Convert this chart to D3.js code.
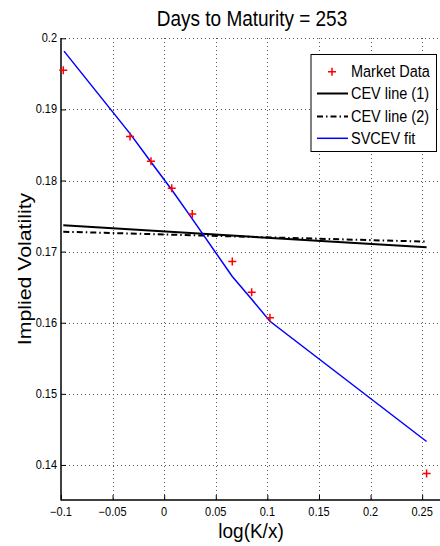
<!DOCTYPE html>
<html><head><meta charset="utf-8">
<script src="https://cdn.jsdelivr.net/npm/d3@7"></script>
<style>body{margin:0;background:#fff}svg{display:block}text{font-family:"Liberation Sans",Arial,Helvetica,sans-serif}</style>
</head><body>
<svg id="c" width="440" height="546"></svg>
<script>
const title = "Days to Maturity = 253";
const xLabel = "log(K/x)";
const yLabel = "Implied Volatility";
const xTicks = [-0.1, -0.05, 0, 0.05, 0.1, 0.15, 0.2, 0.25];
const xTickLabels = ["\u22120.1", "\u22120.05", "0", "0.05", "0.1", "0.15", "0.2", "0.25"];
const yTicks = [0.14, 0.15, 0.16, 0.17, 0.18, 0.19, 0.2];
const yTickLabels = ["0.14", "0.15", "0.16", "0.17", "0.18", "0.19", "0.2"];
const marketX = [-0.0978, -0.0331, -0.0128, 0.0073, 0.0272, 0.066, 0.0848, 0.1025, 0.2543];
const marketVol = [0.1955, 0.1862, 0.1827, 0.1789, 0.1753, 0.1686, 0.1643, 0.1607, 0.1388];
const fitX = [-0.0971, -0.0331, -0.0128, 0.0073, 0.0272, 0.066, 0.0848, 0.1025, 0.2543];
const fitVol = [0.1982, 0.1866, 0.1826, 0.1787, 0.1746, 0.1665, 0.1633, 0.1602, 0.1433];
const cev1X = [-0.0978, 0.2543];
const cev1Vol = [0.1737, 0.1706];
const cev2X = [-0.0978, 0.2543];
const cev2Vol = [0.1728, 0.1714];
const legendLabels = ["Market Data", "CEV line (1)", "CEV line (2)", "SVCEV fit"];

const svg = d3.select("#c");
const SY = 1.12; // vertical stretch of text
const x = d3.scaleLinear().domain([-0.1, 0.2673]).range([61, 440]);
const y = d3.scaleLinear().domain([0.135, 0.2]).range([500.5, 38.3]);

// grid
const grid = svg.append("g").attr("stroke", "#555").attr("stroke-width", 1).attr("stroke-dasharray", "1,3");
xTicks.slice(1).forEach(t => grid.append("line").attr("x1", Math.round(x(t)) + 0.5).attr("x2", Math.round(x(t)) + 0.5).attr("y1", 38).attr("y2", 500));
yTicks.forEach(t => grid.append("line").attr("x1", 61).attr("x2", 440).attr("y1", Math.round(y(t)) + 0.5).attr("y2", Math.round(y(t)) + 0.5));

// axes
const xAxis = d3.axisBottom(x).tickValues(xTicks).tickSize(-5).tickFormat("");
const gx = svg.append("g").attr("transform", "translate(0,500)").call(xAxis);
gx.select(".domain").attr("stroke", "#000").attr("stroke-width", 1.5).attr("d", "M61,0H440");
gx.selectAll(".tick line").attr("stroke", "#000");
const yAxis = d3.axisLeft(y).tickValues(yTicks).tickSize(-5).tickFormat("");
const gy = svg.append("g").attr("transform", "translate(61,0)").call(yAxis);
gy.select(".domain").attr("stroke", "#000").attr("stroke-width", 1.5).attr("d", "M0,38V500.5");
gy.selectAll(".tick line").attr("stroke", "#000");

// tick labels
xTicks.forEach((t, i) => {
  svg.append("text").attr("transform", `translate(${x(t)},515.5) scale(1,1.08)`)
    .attr("text-anchor", "middle").attr("font-size", 11).text(xTickLabels[i]);
});
yTicks.forEach((t, i) => {
  svg.append("text").attr("transform", `translate(57,${y(t) + 4}) scale(1,${SY})`)
    .attr("text-anchor", "end").attr("font-size", 11).text(yTickLabels[i]);
});

// lines
const line = d3.line().x(d => x(d[0])).y(d => y(d[1]));
svg.append("path").datum(cev1X.map((v, i) => [v, cev1Vol[i]])).attr("d", line)
  .attr("fill", "none").attr("stroke", "#000").attr("stroke-width", 2);
svg.append("path").datum(cev2X.map((v, i) => [v, cev2Vol[i]])).attr("d", line)
  .attr("fill", "none").attr("stroke", "#000").attr("stroke-width", 2).attr("stroke-dasharray", "6,3,1.5,3");
svg.append("path").datum(fitX.map((v, i) => [v, fitVol[i]])).attr("d", line)
  .attr("fill", "none").attr("stroke", "#0000ff").attr("stroke-width", 1.5);

// markers
const plus = (g, cx, cy) => g.append("path").attr("d", `M${cx - 4},${cy}H${cx + 4}M${cx},${cy - 4}V${cy + 4}`)
  .attr("stroke", "#ff0000").attr("stroke-width", 1.5).attr("fill", "none");
const mg = svg.append("g");
marketX.forEach((v, i) => plus(mg, x(v), y(marketVol[i])));

// title and labels
svg.append("text").attr("transform", `translate(252,26) scale(1,${SY})`).attr("text-anchor", "middle")
  .attr("font-size", 19).text(title);
svg.append("text").attr("transform", `translate(251,538) scale(1,1.05)`).attr("text-anchor", "middle")
  .attr("font-size", 19).text(xLabel);
svg.append("text").attr("transform", `translate(31,269) scale(1,${SY}) rotate(-90)`).attr("text-anchor", "middle")
  .attr("font-size", 19).text(yLabel);

// legend
const lg = svg.append("g");
lg.append("rect").attr("x", 311).attr("y", 54.5).attr("width", 125.5).attr("height", 97)
  .attr("fill", "#fff").attr("stroke", "#000").attr("stroke-width", 1);
const rowsY = [71.7, 93.5, 116.5, 138.3];
plus(lg, 332, rowsY[0]);
lg.append("line").attr("x1", 317).attr("x2", 348).attr("y1", rowsY[1]).attr("y2", rowsY[1]).attr("stroke", "#000").attr("stroke-width", 2);
lg.append("line").attr("x1", 317).attr("x2", 348).attr("y1", rowsY[2]).attr("y2", rowsY[2]).attr("stroke", "#000").attr("stroke-width", 2).attr("stroke-dasharray", "6,3,1.5,3");
lg.append("line").attr("x1", 317).attr("x2", 348).attr("y1", rowsY[3]).attr("y2", rowsY[3]).attr("stroke", "#0000ff").attr("stroke-width", 1.5);
legendLabels.forEach((t, i) => {
  lg.append("text").attr("transform", `translate(351,${rowsY[i] + 5.5}) scale(1,${SY})`)
    .attr("font-size", 14.5).text(t);
});
</script>
</body></html>
